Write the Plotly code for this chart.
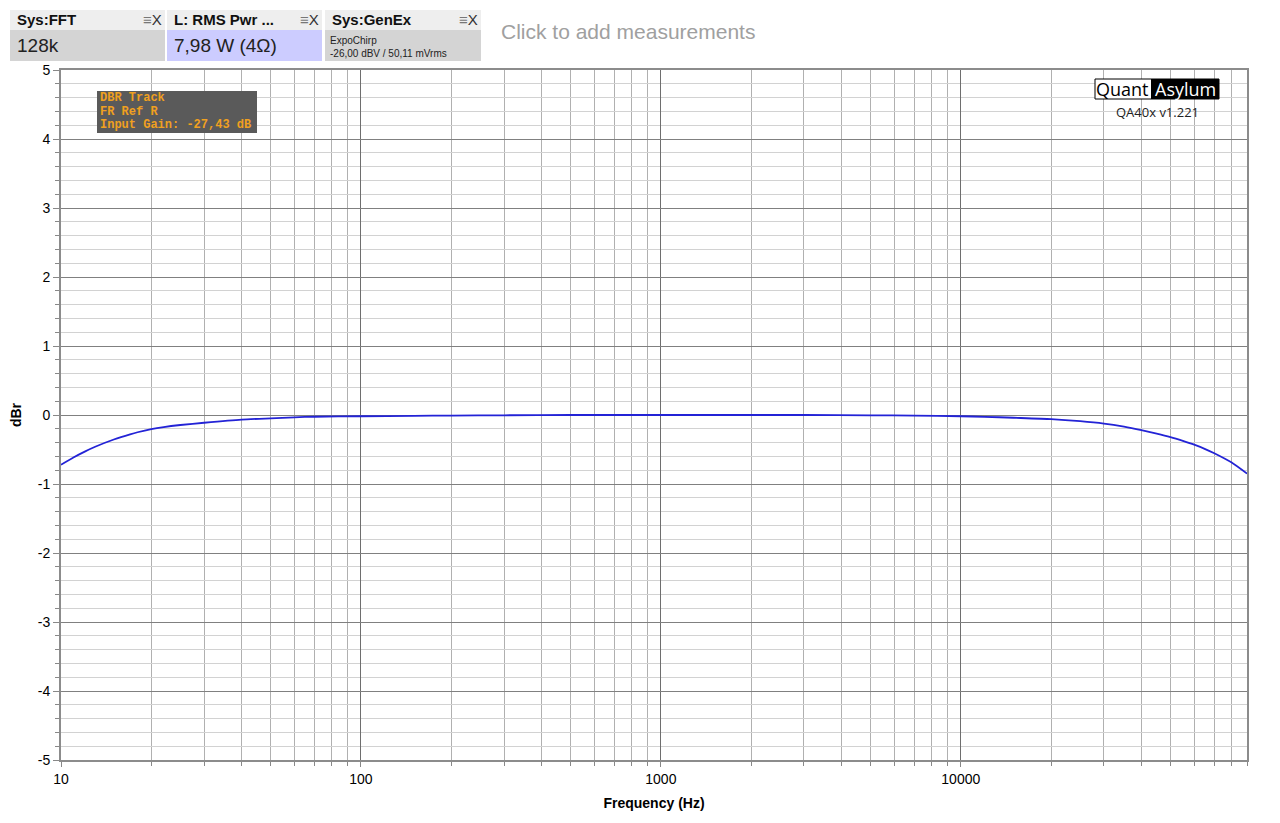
import plotly.graph_objects as go

# frequency response
freq = [10, 11, 12, 13, 15, 17, 18, 20, 22, 25, 30, 40, 50, 60, 70, 100, 150, 200, 300, 500,
        1000, 2000, 3000, 5000, 7000, 10000, 12000, 15000, 20000, 25000, 30000, 35000,
        40000, 45000, 50000, 55000, 60000, 65000, 70000, 80000, 90000]
dbr = [-0.72, -0.615, -0.53, -0.46, -0.355, -0.28, -0.25, -0.205, -0.175, -0.145, -0.112,
       -0.067, -0.048, -0.033, -0.025, -0.018, -0.012, -0.008, -0.004, 0.0, 0.0, 0.0, 0.0,
       -0.004, -0.01, -0.018, -0.026, -0.04, -0.06, -0.09, -0.125, -0.17, -0.22, -0.27,
       -0.32, -0.375, -0.43, -0.49, -0.555, -0.69, -0.85]

x_ticks = [10, 100, 1000, 10000]
x_minor = [m * d for d in [10, 100, 1000, 10000] for m in range(2, 10)]
y_ticks = [-5, -4, -3, -2, -1, 0, 1, 2, 3, 4, 5]

# page has an 8px body margin, so work in screen pixels and shift
OFF = 8
W, H = 1280, 823
L, R, T, B = 61, 1247, 70, 760


def px(x):
    return (x - L) / (R - L)


def py(y):
    return (B - y) / (B - T)


FONT = "Liberation Sans, Arial, sans-serif"

fig = go.Figure()
fig.add_trace(go.Scatter(x=freq, y=dbr, mode="lines",
                         line=dict(color="#2323d6", width=1.8, shape="spline", smoothing=0.6),
                         hoverinfo="x+y"))

fig.update_xaxes(
    type="log", range=[1, 4.9542], tickvals=x_ticks, ticktext=[str(v) for v in x_ticks],
    showgrid=True, gridcolor="#6e6e6e", gridwidth=1,
    ticks="outside", ticklen=5, tickcolor="#888",
    showline=True, linecolor="#8c8c8c", linewidth=2, mirror=True,
    minor=dict(tickmode="array", tickvals=x_minor, showgrid=True, gridcolor="#b0b0b0",
               ticks="outside", ticklen=4, tickcolor="#888"),
    tickfont=dict(family=FONT, size=14, color="#000"),
    title=dict(text="<b>Frequency (Hz)</b>", font=dict(family=FONT, size=14, color="#000"),
               standoff=12),
    zeroline=False, automargin=False,
)
fig.update_yaxes(
    range=[-5, 5], tickvals=y_ticks, ticktext=[str(v) for v in y_ticks],
    showgrid=True, gridcolor="#808080", gridwidth=1,
    ticks="outside", ticklen=6, tickcolor="#888",
    showline=True, linecolor="#8c8c8c", linewidth=2, mirror=True,
    minor=dict(dtick=0.2, showgrid=True, gridcolor="#d2d2d2", ticks="outside",
               ticklen=4, tickcolor="#888"),
    tickfont=dict(family=FONT, size=14, color="#000"),
    title=dict(text="<b>dBr</b>", font=dict(family=FONT, size=14, color="#000"), standoff=14),
    zeroline=False, automargin=False,
)

shapes = []
ann = []

# measurement panels on top
panels = [
    (10, 165, "Sys:FFT", "#d4d4d4"),
    (167, 322, "L: RMS Pwr ...", "#ccccff"),
    (325, 481, "Sys:GenEx", "#d4d4d4"),
]
for x0, x1, title, bg in panels:
    shapes.append(dict(type="rect", xref="paper", yref="paper", x0=px(x0), x1=px(x1),
                       y0=py(30), y1=py(10), fillcolor="#eeeeee", line=dict(width=0), layer="above"))
    shapes.append(dict(type="rect", xref="paper", yref="paper", x0=px(x0), x1=px(x1),
                       y0=py(61), y1=py(30), fillcolor=bg, line=dict(width=0), layer="above"))
    ann.append(dict(text="<b>" + title + "</b>", x=px(x0 + 5), y=py(20), xanchor="left",
                    yanchor="middle", font=dict(family=FONT, size=15, color="#111")))
    ann.append(dict(text="<span style='color:#777'>≡</span>X", x=px(x1 - 1), y=py(20),
                    xanchor="right", yanchor="middle", font=dict(family=FONT, size=15, color="#333")))

ann.append(dict(text="128k", x=px(15), y=py(45), xanchor="left", yanchor="middle",
                font=dict(family=FONT, size=19, color="#222")))
ann.append(dict(text="7,98 W (4Ω)", x=px(172), y=py(45), xanchor="left", yanchor="middle",
                font=dict(family=FONT, size=19, color="#222")))
ann.append(dict(text="ExpoChirp", x=px(328), y=py(40), xanchor="left", yanchor="middle",
                font=dict(family=FONT, size=10, color="#222")))
ann.append(dict(text="-26,00 dBV / 50,11 mVrms", x=px(328), y=py(53), xanchor="left",
                yanchor="middle", font=dict(family=FONT, size=10, color="#222")))
ann.append(dict(text="Click to add measurements", x=px(499), y=py(31), xanchor="left",
                yanchor="middle", font=dict(family=FONT, size=21, color="#a0a0a0")))

# info box
shapes.append(dict(type="rect", xref="paper", yref="paper", x0=px(97), x1=px(257),
                   y0=py(133), y1=py(91), fillcolor="#5a5a5a", line=dict(width=0), layer="above"))
for i, line in enumerate(["DBR Track", "FR Ref R", "Input Gain: -27,43 dB"]):
    ann.append(dict(text="<b>" + line + "</b>", x=px(98), y=py(98 + 13.5 * i), xanchor="left",
                    yanchor="middle", font=dict(family="Liberation Mono, monospace", size=12,
                                                color="#f0a020")))

# logo
shapes.append(dict(type="rect", xref="paper", yref="paper", x0=px(1095), x1=px(1219),
                   y0=py(99), y1=py(79), fillcolor="#ffffff", line=dict(color="#000", width=1),
                   layer="above"))
shapes.append(dict(type="rect", xref="paper", yref="paper", x0=px(1151), x1=px(1219),
                   y0=py(99), y1=py(79), fillcolor="#000000", line=dict(width=0), layer="above"))
ann.append(dict(text="Quant", x=px(1151), y=py(89), xanchor="right", yanchor="middle",
                font=dict(family="Open Sans, sans-serif", size=18, color="#000")))
ann.append(dict(text="Asylum", x=px(1185), y=py(89), xanchor="center", yanchor="middle",
                font=dict(family="Open Sans, sans-serif", size=18, color="#fff")))
ann.append(dict(text="QA40x v1.221", x=px(1157), y=py(112), xanchor="center", yanchor="middle",
                font=dict(family="Open Sans, sans-serif", size=13, color="#222")))

for a in ann:
    a.update(xref="paper", yref="paper", showarrow=False)

fig.update_layout(
    width=W, height=H,
    margin=dict(l=L - OFF, r=W - (R - OFF), t=T - OFF, b=H - (B - OFF), autoexpand=False),
    plot_bgcolor="#ffffff", paper_bgcolor="#ffffff", showlegend=False,
    shapes=shapes, annotations=ann,
)

fig.write_html("out.html")
